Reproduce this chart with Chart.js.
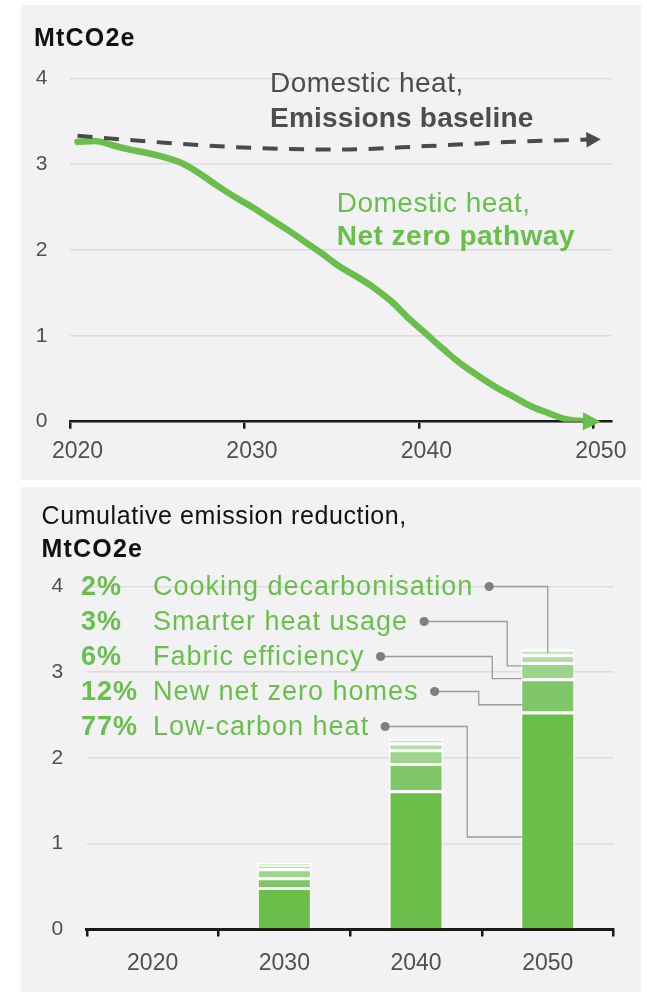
<!DOCTYPE html>
<html>
<head>
<meta charset="utf-8">
<title>Domestic heat emissions</title>
<script src="https://cdn.jsdelivr.net/npm/chart.js@4.4.1/dist/chart.umd.min.js"></script>
<style>
  html, body { margin:0; padding:0; background:#ffffff; }
  body { width:647px; height:992px; position:relative; overflow:hidden; font-family:"Liberation Sans", Arial, Helvetica, sans-serif; }
  .panel { position:absolute; left:21px; width:620px; background:#f2f2f4; }
  #panelTop { top:5px; height:475px; }
  #panelBottom { top:487px; height:505px; }
  .wrap { position:absolute; left:0; width:647px; }
  #wrapTop { top:0; height:484px; }
  #wrapBottom { top:484px; height:508px; }
  .title { position:absolute; white-space:nowrap; color:#111; font-size:25px; line-height:25px; }
  .bold { font-weight:bold; letter-spacing:1.2px; }
</style>
</head>
<body>
<div class="panel" id="panelTop"></div>
<div class="panel" id="panelBottom"></div>
<div class="wrap" id="wrapTop"><canvas id="lineChart"></canvas></div>
<div class="wrap" id="wrapBottom"><canvas id="barChart"></canvas></div>
<div class="title bold" style="left:34px;top:25px">MtCO2e</div>
<div class="title" style="left:41.5px;top:503px;letter-spacing:0.6px">Cumulative emission reduction,</div>
<div class="title bold" style="left:41.5px;top:535.5px">MtCO2e</div>
<script>
// ---------- DATA ----------
const pathwayYears = [2020,2021,2022,2023,2024,2025,2026,2027,2028,2029,2030,2031,2032,2033,2034,2035,2036,2037,2038,2039,2040,2041,2042,2043,2044,2045,2046,2047,2048,2049,2050];
const netZeroPathway = [3.26,3.27,3.22,3.17,3.13,3.08,3.01,2.89,2.75,2.62,2.50,2.37,2.24,2.10,1.96,1.81,1.69,1.56,1.40,1.20,1.02,0.84,0.67,0.53,0.40,0.29,0.18,0.10,0.03,0.005,0];
const baselineYears = [2020,2025,2030,2035,2040,2045,2050];
const emissionsBaseline = [3.33,3.25,3.19,3.17,3.21,3.26,3.29];
const lineYTicks = [0,1,2,3,4];
const lineXTickLabels = ['2020','2030','2040','2050'];

const barCategories = ['2020','2030','2040','2050'];
const lowCarbonHeat = [0, 0.49, 1.62, 2.54];
const newNetZeroHomes = [0, 0.115, 0.32, 0.39];
const fabricEfficiency = [0, 0.105, 0.16, 0.19];
const smarterHeatUsage = [0, 0.035, 0.08, 0.09];
const cookingDecarbonisation = [0, 0.025, 0.04, 0.06];
const seriesNames = ['Low-carbon heat','New net zero homes','Fabric efficiency','Smarter heat usage','Cooking decarbonisation'];
const seriesShares = ['77%','12%','6%','3%','2%'];
const barYTicks = [0,1,2,3,4];

// ---------- STYLE ----------
const FONT = '"Liberation Sans", Arial, Helvetica, sans-serif';
const GREEN = '#69be4c';
const DARK = '#4a4a4a';
const TICK_SHIFT = 0.42;
Chart.defaults.font.family = FONT;

const arrowPlugin = {
  id: 'arrowHeads',
  beforeDatasetDraw(chart, args) {
    const ds = chart.data.datasets[args.index];
    if (!ds.arrow) return;
    const pts = args.meta.data;
    const p1 = pts[pts.length - 1], p0 = pts[pts.length - 2];
    const ang = Math.atan2(p1.y - p0.y, p1.x - p0.x);
    const baseX = p1.x - ds.arrow.length * Math.cos(ang);
    const ctx = chart.ctx;
    ctx.save();
    ctx.beginPath();
    ctx.rect(0, 0, baseX + 3, chart.height);
    ctx.clip();
  },
  afterDatasetDraw(chart, args) {
    const ds = chart.data.datasets[args.index];
    if (!ds.arrow) return;
    const ctx = chart.ctx;
    ctx.restore();
    const pts = args.meta.data;
    const p1 = pts[pts.length - 1], p0 = pts[pts.length - 2];
    const ang = Math.atan2(p1.y - p0.y, p1.x - p0.x);
    const L = ds.arrow.length, H = ds.arrow.half;
    const bx = p1.x - L * Math.cos(ang), by = p1.y - L * Math.sin(ang);
    const nx = -Math.sin(ang), ny = Math.cos(ang);
    ctx.save();
    ctx.fillStyle = ds.borderColor;
    ctx.beginPath();
    ctx.moveTo(p1.x, p1.y);
    ctx.lineTo(bx + nx * H, by + ny * H);
    ctx.lineTo(bx - nx * H, by - ny * H);
    ctx.closePath();
    ctx.fill();
    ctx.restore();
  }
};

const lineLabelItems = [
  { text: 'Domestic heat,', x: 270, y: 92.3, bold: false, color: '#4d4d4d', ls: 0.5 },
  { text: 'Emissions baseline', x: 270, y: 126.7, bold: true, color: '#4d4d4d', ls: 0.2 },
  { text: 'Domestic heat,', x: 336.7, y: 211.7, bold: false, color: GREEN, ls: 0.5 },
  { text: 'Net zero pathway', x: 336.7, y: 245, bold: true, color: GREEN, ls: 0.5 }
];
const lineLabelsPlugin = {
  id: 'lineLabels',
  afterDraw(chart) {
    const ctx = chart.ctx;
    lineLabelItems.forEach(it => {
      ctx.save();
      ctx.font = (it.bold ? 'bold ' : '') + '28px ' + FONT;
      ctx.letterSpacing = it.ls + 'px';
      ctx.fillStyle = it.color;
      ctx.textAlign = 'left';
      ctx.textBaseline = 'alphabetic';
      ctx.fillText(it.text, it.x, it.y);
      ctx.restore();
    });
  }
};

new Chart(document.getElementById('lineChart'), {
  type: 'line',
  data: {
    datasets: [
      {
        label: 'Domestic heat, Emissions baseline',
        data: baselineYears.map((x, i) => ({ x: x, y: emissionsBaseline[i] })),
        borderColor: DARK, borderWidth: 4, borderDash: [15, 11.5], borderCapStyle: 'butt',
        pointRadius: 0, cubicInterpolationMode: 'monotone', fill: false,
        arrow: { length: 14.5, half: 7.8 }
      },
      {
        label: 'Domestic heat, Net zero pathway',
        data: pathwayYears.map((x, i) => ({ x: x, y: netZeroPathway[i] })),
        borderColor: GREEN, borderWidth: 6.5, borderCapStyle: 'round', borderJoinStyle: 'round',
        pointRadius: 0, cubicInterpolationMode: 'monotone', fill: false,
        arrow: { length: 18, half: 9 }
      }
    ]
  },
  options: {
    responsive: true, maintainAspectRatio: false, animation: false, devicePixelRatio: 1,
    layout: { padding: { top: 78.3, right: 36, bottom: 0, left: 0 } },
    plugins: { legend: { display: false }, tooltip: { enabled: false } },
    scales: {
      x: {
        type: 'linear', min: 2020 - TICK_SHIFT, max: 2051 - TICK_SHIFT,
        afterBuildTicks: s => { s.ticks = lineXTickLabels.map(l => ({ value: Number(l) - TICK_SHIFT })); },
        afterFit: s => { s.height = 62.3; },
        ticks: { callback: (v, i) => lineXTickLabels[i], labelOffset: 7.3, padding: 9, color: '#505050', font: { size: 23 }, maxRotation: 0, autoSkip: false },
        grid: { drawOnChartArea: false, drawTicks: true, tickLength: 7, color: '#1a1a1a', lineWidth: 2.5 },
        border: { display: true, color: '#1a1a1a', width: 2.5 }
      },
      y: {
        min: 0, max: 4,
        afterBuildTicks: s => { s.ticks = lineYTicks.map(v => ({ value: v })); },
        afterFit: s => { s.width = 70.2; },
        ticks: { padding: 22.7, color: '#505050', font: { size: 21 } },
        grid: { color: '#dcdcdc', lineWidth: 1.5, drawTicks: false },
        border: { display: false }
      }
    }
  },
  plugins: [arrowPlugin, lineLabelsPlugin]
});

// ---------- BAR CHART ----------
const barSeries = [lowCarbonHeat, newNetZeroHomes, fabricEfficiency, smarterHeatUsage, cookingDecarbonisation];
const barColors = ['#6abf4b', '#7ec667', '#9dd48b', '#b4dea4', '#c6e7b9'];
// leader-line geometry (annotation layout, not data)
const leaderLayout = [
  { elbowDx: -53.5, target: 1.075 },
  { elbowDx: -42, target: 2.62 },
  { elbowDx: -28.5, target: 2.925 },
  { elbowDx: -13.5, target: 3.075 },
  { elbowDx: null, target: 3.225 }
];
const legendLayout = { rowTop: 111, rowGap: 35, pctX: 81, nameX: 153, dotGap: 16, dotLift: 8.5 };

const leaderPlugin = {
  id: 'leaders',
  afterDatasetsDraw(chart) {
    const ctx = chart.ctx;
    const yS = chart.scales.y;
    const n = barSeries.length;
    const lastMeta = chart.getDatasetMeta(0);
    const bar = lastMeta.data[barCategories.length - 1];
    const barLeft = bar.x - bar.width / 2;
    for (let i = 0; i < n; i++) {
      const r = n - 1 - i;
      const base = legendLayout.rowTop + r * legendLayout.rowGap;
      ctx.save();
      ctx.font = '27px ' + FONT;
      ctx.letterSpacing = '1px';
      const w = ctx.measureText(seriesNames[i]).width;
      ctx.restore();
      const dotX = legendLayout.nameX + w + legendLayout.dotGap;
      const dotY = base - legendLayout.dotLift;
      const lay = leaderLayout[i];
      const ty = yS.getPixelForValue(lay.target);
      ctx.save();
      ctx.strokeStyle = '#9c9c9c';
      ctx.lineWidth = 1.3;
      ctx.beginPath();
      ctx.moveTo(dotX, dotY);
      if (lay.elbowDx === null) {
        ctx.lineTo(bar.x, dotY);
        ctx.lineTo(bar.x, ty);
      } else {
        const ex = barLeft + lay.elbowDx;
        ctx.lineTo(ex, dotY);
        ctx.lineTo(ex, ty);
        ctx.lineTo(barLeft + 1.5, ty);
      }
      ctx.stroke();
      ctx.fillStyle = '#808080';
      ctx.beginPath();
      ctx.arc(dotX, dotY, 4.6, 0, Math.PI * 2);
      ctx.fill();
      ctx.restore();
    }
  },
  afterDraw(chart) {
    const ctx = chart.ctx;
    const n = barSeries.length;
    for (let i = 0; i < n; i++) {
      const r = n - 1 - i;
      const base = legendLayout.rowTop + r * legendLayout.rowGap;
      ctx.save();
      ctx.fillStyle = GREEN;
      ctx.textAlign = 'left';
      ctx.textBaseline = 'alphabetic';
      ctx.letterSpacing = '1px';
      ctx.font = 'bold 27px ' + FONT;
      ctx.fillText(seriesShares[i], legendLayout.pctX, base);
      ctx.font = '27px ' + FONT;
      ctx.fillText(seriesNames[i], legendLayout.nameX, base);
      ctx.restore();
    }
  }
};

new Chart(document.getElementById('barChart'), {
  type: 'bar',
  data: {
    labels: barCategories,
    datasets: barSeries.map((vals, i) => ({
      label: seriesNames[i],
      data: vals,
      backgroundColor: barColors[i],
      borderColor: '#ffffff',
      borderWidth: { top: 3, left: 1.5, right: 1.5, bottom: 0 },
      borderSkipped: false,
      barPercentage: 0.41,
      categoryPercentage: 1,
      stack: 'total'
    }))
  },
  options: {
    responsive: true, maintainAspectRatio: false, animation: false, devicePixelRatio: 1,
    layout: { padding: { top: 102.6, right: 33.4, bottom: 0, left: 0 } },
    plugins: { legend: { display: false }, tooltip: { enabled: false } },
    scales: {
      x: {
        stacked: true, offset: true,
        afterFit: s => { s.height = 63; },
        ticks: { padding: 13, color: '#505050', font: { size: 23 }, maxRotation: 0, autoSkip: false },
        grid: { offset: true, drawOnChartArea: false, drawTicks: true, tickLength: 7.5, color: '#1a1a1a', lineWidth: 2.5 },
        border: { display: true, color: '#1a1a1a', width: 3 }
      },
      y: {
        stacked: true, min: 0, max: 4,
        afterBuildTicks: s => { s.ticks = barYTicks.map(v => ({ value: v })); },
        afterFit: s => { s.width = 86.8; },
        ticks: { padding: 23.5, color: '#505050', font: { size: 21 } },
        grid: { color: '#dcdcdc', lineWidth: 1.5, drawTicks: false },
        border: { display: false }
      }
    }
  },
  plugins: [leaderPlugin]
});
</script>
</body>
</html>
